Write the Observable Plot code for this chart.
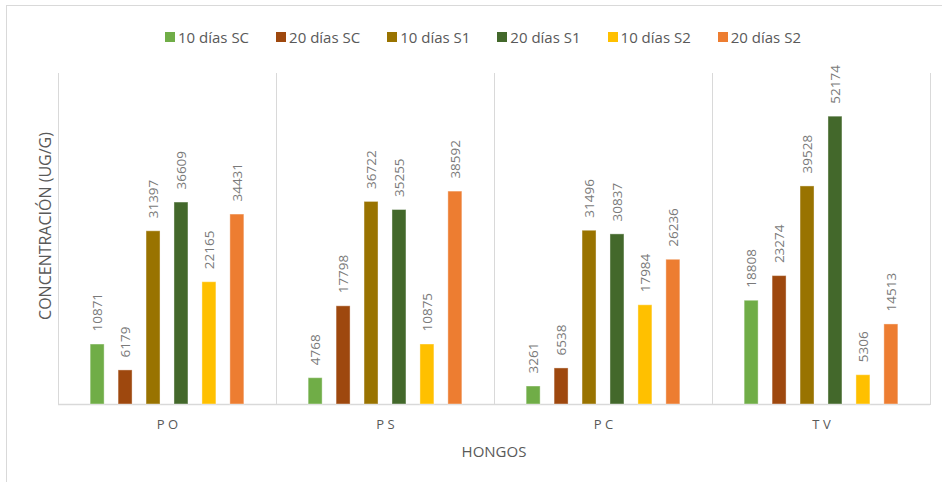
<!DOCTYPE html>
<html>
<head>
<meta charset="utf-8">
<script src="https://cdn.jsdelivr.net/npm/d3@7"></script>
<script src="https://cdn.jsdelivr.net/npm/@observablehq/plot@0.6"></script>
<style>
  html, body { margin: 0; padding: 0; background: #fff; }
  body { width: 942px; height: 482px; overflow: hidden; position: relative; font-family: "Open Sans", sans-serif; }
  #border { position: absolute; left: 6px; top: 5px; width: 1000px; height: 600px; border: 1.5px solid #d9d9d9; box-sizing: border-box; }
  #legend { position: absolute; left: 165px; top: 20px; width: 775px; }
  #legend .lg { justify-content: flex-start; min-height: 26px !important; margin: 0 !important; font-size: 15px !important; }
  #legend .lg-swatch { margin-right: 27px !important; font-size: 15px !important; color: #595959; }
  #legend .lg-swatch svg { margin-right: 3px !important; }
  #chart { position: absolute; left: 0; top: 55px; }
  #xtitle { position: absolute; left: 394px; width: 200px; top: 441px; text-align: center; font-size: 15px; color: #595959; }
</style>
</head>
<body>
<div id="border"></div>
<div id="legend"></div>
<div id="chart"></div>
<div id="xtitle"></div>
<script>
// Fungi (groups), treatments (series) and measured concentrations
const groups = ["PO", "PS", "PC", "TV"];
const series = ["10 días SC", "20 días SC", "10 días S1", "20 días S1", "10 días S2", "20 días S2"];
const colors = ["#70ad47", "#9e480e", "#997300", "#43682b", "#ffc000", "#ed7d31"];
const valuesPO = [10871, 6179, 31397, 36609, 22165, 34431];
const valuesPS = [4768, 17798, 36722, 35255, 10875, 38592];
const valuesPC = [3261, 6538, 31496, 30837, 17984, 26236];
const valuesTV = [18808, 23274, 39528, 52174, 5306, 14513];
const yTitle = "CONCENTRACIÓN (UG/G)";
const xTitle = "HONGOS";

const valuesByGroup = [valuesPO, valuesPS, valuesPC, valuesTV];
const rows = groups.flatMap((g, i) =>
  series.map((s, j) => ({group: g, series: s, value: valuesByGroup[i][j]}))
);

const legend = Plot.legend({
  color: {type: "ordinal", domain: series, range: colors},
  swatchSize: 10,
  className: "lg",
  style: {fontFamily: "Open Sans", fontSize: "15px"}
});
document.getElementById("legend").append(legend);
document.getElementById("xtitle").textContent = xTitle;

const chart = Plot.plot({
  width: 942,
  height: 427,
  marginLeft: 58,
  marginRight: 12,
  marginTop: 18,
  marginBottom: 78,
  style: {fontFamily: "Open Sans", color: "#595959", background: "transparent"},
  fx: {domain: groups, padding: 0},
  x: {domain: series, axis: null, paddingInner: 0.5, paddingOuter: 1.15, round: false},
  y: {domain: [0, 60000], axis: null},
  color: {domain: series, range: colors},
  marks: [
    Plot.frame({anchor: "left", stroke: "#d9d9d9"}),
    Plot.frame({anchor: "right", stroke: "#d9d9d9"}),
    Plot.ruleY([0], {stroke: "#d9d9d9", strokeWidth: 1.5}),
    Plot.barY(rows, {fx: "group", x: "series", y: "value", fill: "series", stroke: "#ffffff", strokeOpacity: 0.4, strokeWidth: 1}),
    Plot.text(rows, {
      fx: "group", x: "series", y: "value", text: d => String(d.value),
      rotate: -90, textAnchor: "start", dy: -13, fill: "#7a7a7a", fontSize: 13.5
    }),
    Plot.axisFx({
      anchor: "bottom", tickSize: 0, tickPadding: 15, fontSize: 13,
      tickFormat: d => d.split("").join(" "), label: null
    }),
    Plot.text([yTitle], {
      fx: [groups[0]], frameAnchor: "left", textAnchor: "middle", rotate: -90, dx: -13, dy: -13,
      fontSize: 16, fill: "#595959"
    })
  ]
});
document.getElementById("chart").append(chart);
</script>
</body>
</html>
